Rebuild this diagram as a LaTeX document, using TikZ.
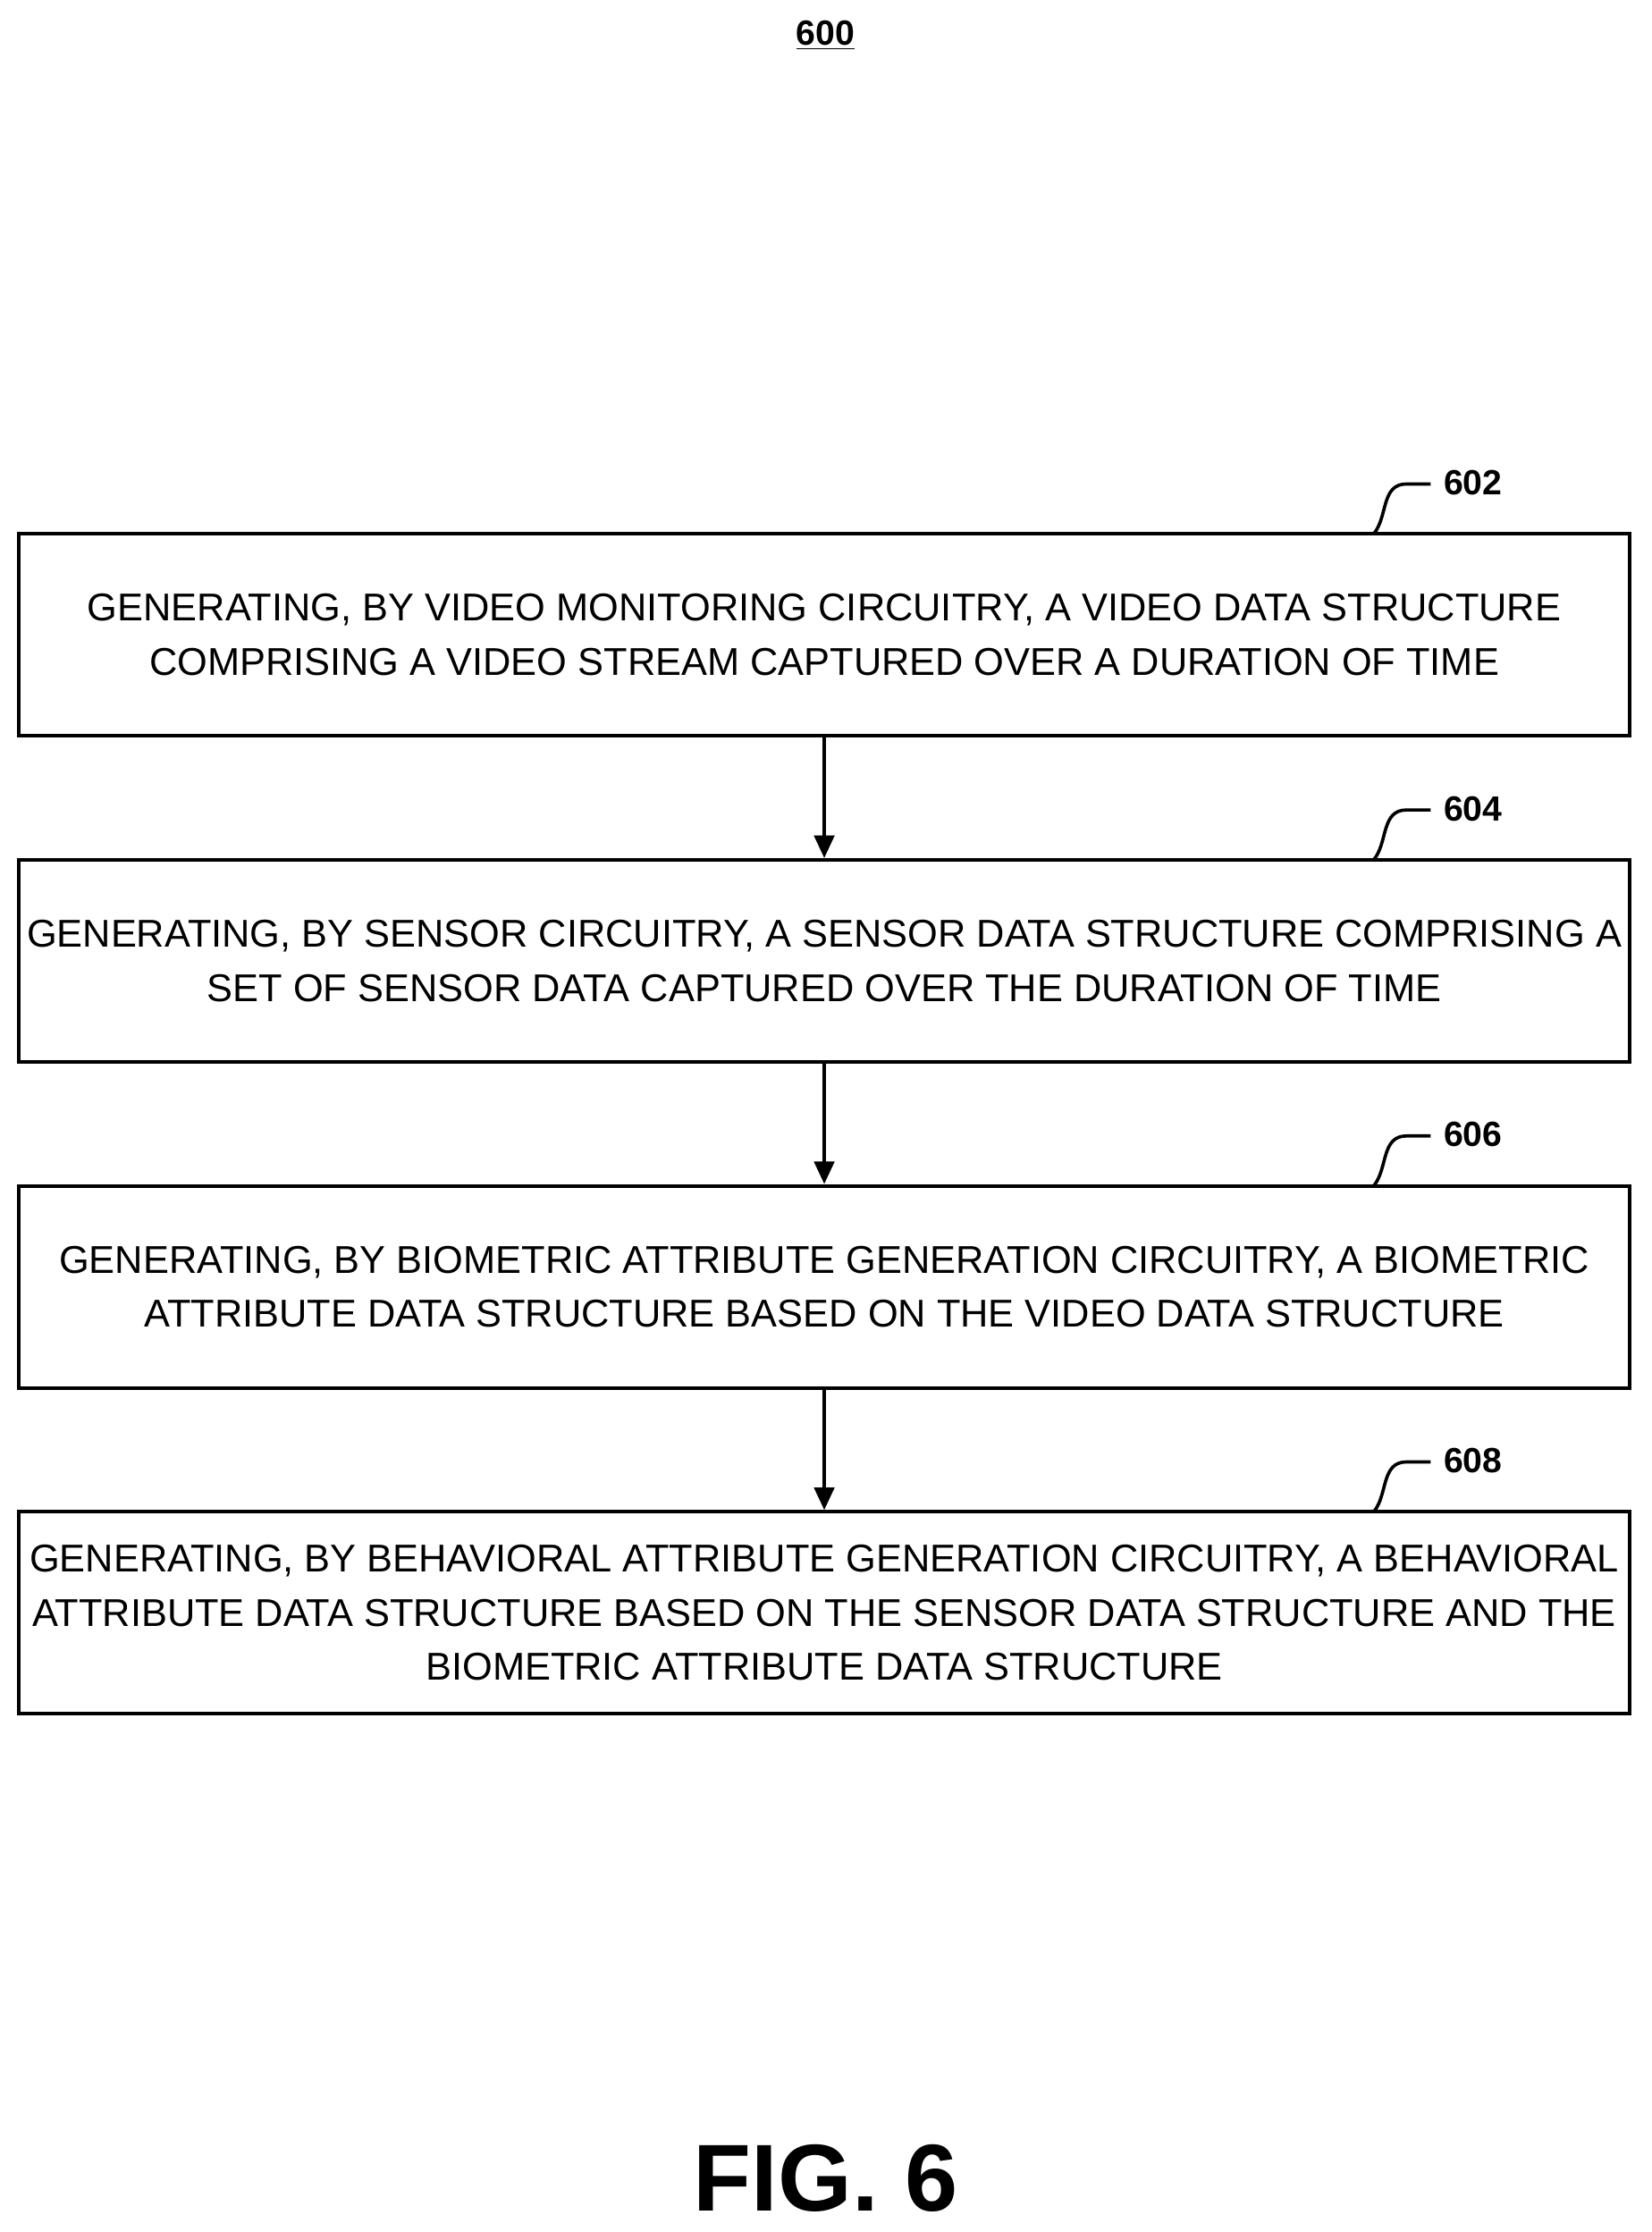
\documentclass[tikz,border=0pt]{standalone}
\usepackage{fontspec}
\setmainfont{Liberation Sans}
\usetikzlibrary{positioning,arrows.meta}

\begin{document}
\begin{tikzpicture}[
    x=0.02cm, y=-0.02cm,
    stepbox/.style={rectangle, draw, line width=1.4pt, minimum width=22.64cm, minimum height=2.84cm, align=center, inner sep=0pt, font=\fontsize{15.5}{21.6}\selectfont},
    flow/.style={-{Triangle[length=9pt,width=8pt]}, line width=1.3pt},
    tag/.style={font=\fontsize{14}{16}\selectfont\bfseries, anchor=west},
    hook/.style={line width=1.3pt}
]
    \useasboundingbox (0,0) rectangle (1160,1568);

    % Title
    \node[font=\fontsize{14}{16}\selectfont\bfseries] (title) at (580,25) {\underline{600}};

    % Steps
    \node[stepbox] (s602) at (579,446) {GENERATING, BY VIDEO MONITORING CIRCUITRY, A VIDEO DATA STRUCTURE\\COMPRISING A VIDEO STREAM CAPTURED OVER A DURATION OF TIME};
    \node[stepbox] (s604) at (579,675) {GENERATING, BY SENSOR CIRCUITRY, A SENSOR DATA STRUCTURE COMPRISING A\\SET OF SENSOR DATA CAPTURED OVER THE DURATION OF TIME};
    \node[stepbox] (s606) at (579,904) {GENERATING, BY BIOMETRIC ATTRIBUTE GENERATION CIRCUITRY, A BIOMETRIC\\ATTRIBUTE DATA STRUCTURE BASED ON THE VIDEO DATA STRUCTURE};
    \node[stepbox] (s608) at (579,1133) {GENERATING, BY BEHAVIORAL ATTRIBUTE GENERATION CIRCUITRY, A BEHAVIORAL\\ATTRIBUTE DATA STRUCTURE BASED ON THE SENSOR DATA STRUCTURE AND THE\\BIOMETRIC ATTRIBUTE DATA STRUCTURE};

    % Arrows
    \draw[flow] (s602) -- (s604);
    \draw[flow] (s604) -- (s606);
    \draw[flow] (s606) -- (s608);

    % Reference numerals
    \foreach \n/\y in {602/375, 604/604, 606/833, 608/1062} {
        \coordinate (h\n) at (965,\y);
        \draw[hook] (h\n) .. controls (975,\y-12) and (970,\y-35) .. (988,\y-35) -- (1005,\y-35);
        \node[tag] (t\n) at (1008,\y-36) {\n};
    }

    % Figure label
    \node[font=\fontsize{38}{40}\selectfont\bfseries] (fig) at (580,1530) {FIG. 6};
\end{tikzpicture}
\end{document}
